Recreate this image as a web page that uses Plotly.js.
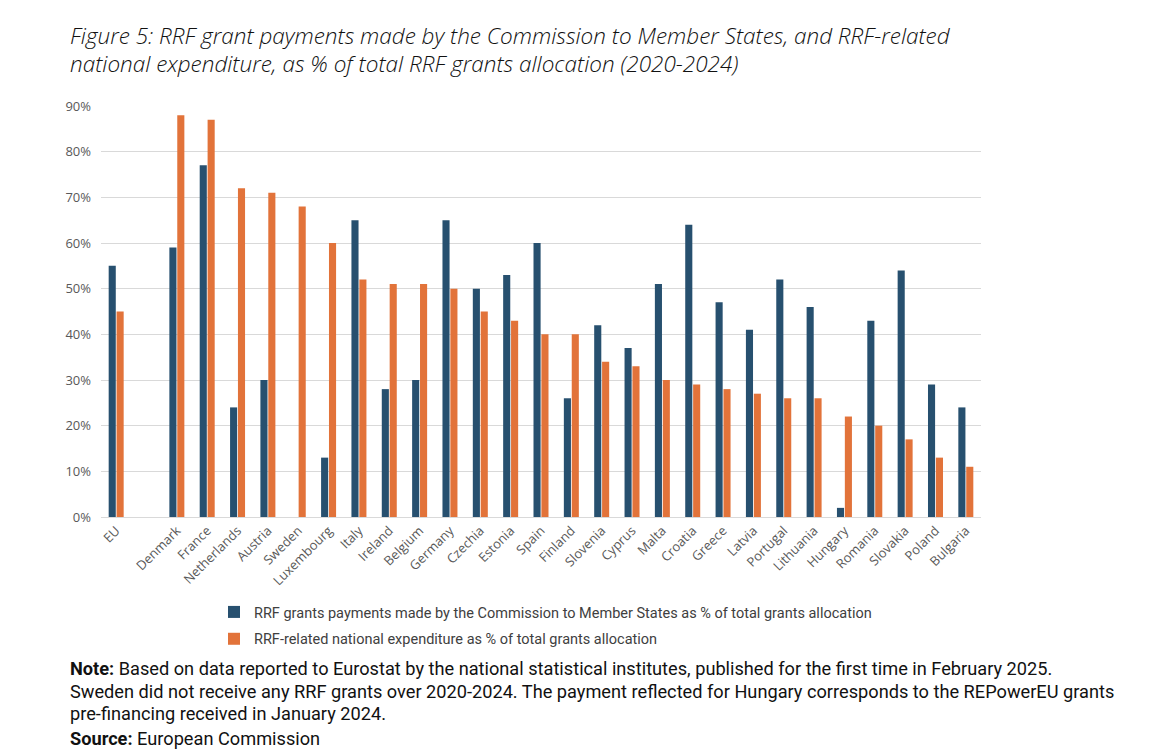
<!DOCTYPE html>
<html>
<head>
<meta charset="utf-8">
<script src="https://cdn.plot.ly/plotly-3.0.1.min.js"></script>
<style>
html,body{margin:0;padding:0;background:#ffffff;}
#chart{width:1156px;height:752px;}
</style>
</head>
<body>
<div id="chart"></div>
<script>
const categories = ["EU"," ","Denmark","France","Netherlands","Austria","Sweden","Luxembourg","Italy","Ireland","Belgium","Germany","Czechia","Estonia","Spain","Finland","Slovenia","Cyprus","Malta","Croatia","Greece","Latvia","Portugal","Lithuania","Hungary","Romania","Slovakia","Poland","Bulgaria"];
const commissionPayments = [55,null,59,77,24,30,null,13,65,28,30,65,50,53,60,26,42,37,51,64,47,41,52,46,2,43,54,29,24];
const nationalExpenditure = [45,null,88,87,72,71,68,60,52,51,51,50,45,43,40,40,34,33,30,29,28,27,26,26,22,20,17,13,11];
const yTickVals = [0,10,20,30,40,50,60,70,80,90];
const yTickText = ["0%","10%","20%","30%","40%","50%","60%","70%","80%","90%"];
const seriesNames = ["RRF grants payments made by the Commission to Member States as % of total grants allocation","RRF-related national expenditure as % of total grants allocation"];
const titleLines = ["Figure 5: RRF grant payments made by the Commission to Member States, and RRF-related","national expenditure, as % of total RRF grants allocation (2020-2024)"];
const noteLines = ["<b>Note:</b> Based on data reported to Eurostat by the national statistical institutes, published for the first time in February 2025.","Sweden did not receive any RRF grants over 2020-2024. The payment reflected for Hungary corresponds to the REPowerEU grants","pre-financing received in January 2024.","<b>Source:</b> European Commission"];

const blue = "#27506f";
const orange = "#e2733a";
const condensed = "Roboto, 'Noto Sans', sans-serif";

const traces = [
  {type:"bar", x:categories, y:commissionPayments, name:seriesNames[0], marker:{color:blue}, legendgroup:"a"},
  {type:"bar", x:categories, y:nationalExpenditure, name:seriesNames[1], marker:{color:orange}, legendgroup:"b"}
];

const W = 1156, H = 752;
const L = 101, R = 981, T = 106, B = 517;
const pw = R - L, ph = B - T;
const px = v => (v - L) / pw;
const py = v => (B - v) / ph;

const titleY = [35, 64];
const noteY = [668, 691, 713, 738];

const annotations = [];
titleLines.forEach((t, i) => annotations.push({
  text: "<i>" + t + "</i>", xref: "paper", yref: "paper",
  x: px(68), xanchor: "left", y: py(titleY[i]), yanchor: "middle",
  align: "left", showarrow: false,
  font: {family: "'Open Sans', 'Noto Sans', sans-serif", size: 22.5, color: "#111111", weight: 300}
}));
noteLines.forEach((t, i) => annotations.push({
  text: t, xref: "paper", yref: "paper",
  x: px(68), xanchor: "left", y: py(noteY[i]), yanchor: "middle",
  align: "left", showarrow: false,
  font: {family: condensed, size: 18.2, color: "#111111"}
}));

const layout = {
  width: W, height: H,
  margin: {l: L, r: W - R, t: T, b: H - B, pad: 0},
  paper_bgcolor: "#ffffff",
  plot_bgcolor: "#ffffff",
  font: {family: "'Open Sans', 'Noto Sans', sans-serif", color: "#595959", size: 12},
  barmode: "group",
  bargap: 0.48,
  bargroupgap: 0.1,
  xaxis: {
    type: "category",
    categoryorder: "array",
    categoryarray: categories,
    tickangle: -45,
    tickfont: {size: 13, color: "#595959"},
    showgrid: false,
    showline: true,
    linecolor: "#d9d9d9",
    linewidth: 1,
    ticks: "",
    zeroline: false
  },
  yaxis: {
    range: [0, 90],
    tickvals: yTickVals,
    ticktext: yTickText,
    showgrid: true,
    gridcolor: "#d9d9d9",
    gridwidth: 1,
    zeroline: false,
    showline: false,
    ticks: "",
    ticklabelstandoff: 9,
    tickfont: {size: 13, color: "#595959"}
  },
  showlegend: true,
  legend: {
    orientation: "v",
    x: px(214), xanchor: "left",
    y: py(596), yanchor: "top",
    font: {family: condensed, size: 14.5, color: "#404040"},
    tracegroupgap: 5,
    itemwidth: 30,
    bgcolor: "rgba(0,0,0,0)"
  },
  annotations: annotations
};

Plotly.newPlot("chart", traces, layout, {displayModeBar: false, staticPlot: true});
</script>
</body>
</html>
